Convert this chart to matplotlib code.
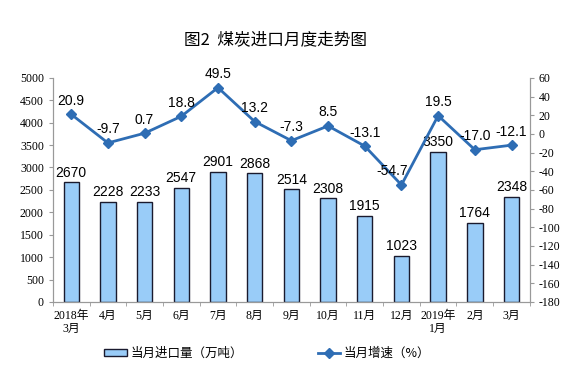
import numpy as np
import matplotlib.pyplot as plt
from matplotlib.ticker import MultipleLocator

plt.rcParams['font.family'] = ['Noto Sans CJK SC', 'DejaVu Sans']
plt.rcParams['axes.unicode_minus'] = False

# 月份、进口量（万吨）、增速（%）
months = ['2018年\n3月', '4月', '5月', '6月', '7月', '8月', '9月', '10月',
          '11月', '12月', '2019年\n1月', '2月', '3月']
imports = [2670, 2228, 2233, 2547, 2901, 2868, 2514, 2308, 1915, 1023, 3350, 1764, 2348]
growth = [20.9, -9.7, 0.7, 18.8, 49.5, 13.2, -7.3, 8.5, -13.1, -54.7, 19.5, -17.0, -12.1]
growth_labels = ['20.9', '-9.7', '0.7', '18.8', '49.5', '13.2', '-7.3', '8.5',
                 '-13.1', '-54.7', '19.5', '-17.0', '-12.1']

serif = ['Liberation Serif', 'Noto Sans CJK SC']
num_font = 'Liberation Sans'

fig = plt.figure(figsize=(5.81, 3.76), dpi=100)
ax = fig.add_axes([0.091, 0.197, 0.821, 0.596])
ax2 = ax.twinx()

x = np.arange(len(months))
bars = ax.bar(x, imports, width=0.42, color='#99ccf8', edgecolor='#1a1a2e',
              linewidth=1.0, label='当月进口量（万吨）', zorder=2)
for xi, v in zip(x, imports):
    ax.text(xi, v + 60, str(v), ha='center', va='bottom', fontsize=10,
            family=num_font)

line, = ax2.plot(x, growth, color='#2e6db4', linewidth=2, marker='D',
                 markersize=5, label='当月增速（%）', zorder=3)
for xi, v, s in zip(x, growth, growth_labels):
    dx = -0.25 if s == '-54.7' else 0
    ax2.text(xi + dx, v + 7, s, ha='center', va='bottom', fontsize=10,
             family=num_font)

ax.set_xlim(-0.5, len(months) - 0.5)
ax.set_ylim(0, 5000)
ax.yaxis.set_major_locator(MultipleLocator(500))
ax2.set_ylim(-180, 60)
ax2.yaxis.set_major_locator(MultipleLocator(20))

ax.set_xticks(x)
ax.set_xticklabels(months, fontsize=8.5, family=serif, linespacing=1.1)
ax.set_xticks(np.arange(-0.5, len(months), 1), minor=True)
ax.tick_params(axis='x', which='major', length=0, pad=6)
ax.tick_params(axis='x', which='minor', length=3, color='#999999')
for t in ax.get_yticklabels():
    t.set_family(serif)
ax.tick_params(axis='y', labelsize=8.5, length=3, color='#999999')
for t in ax2.get_yticklabels():
    t.set_family(serif)
ax2.tick_params(axis='y', labelsize=8.5, length=3, color='#999999')

for a in (ax, ax2):
    a.spines['top'].set_visible(False)
    for s in ('left', 'right', 'bottom'):
        a.spines[s].set_color('#999999')

fig.text(0.474, 0.895, '图2  煤炭进口月度走势图', ha='center', va='center',
         fontsize=12)

fig.legend([bars, line], ['当月进口量（万吨）', '当月增速（%）'],
           loc='center', bbox_to_anchor=(0.46, 0.06), ncol=2, frameon=False,
           fontsize=9, columnspacing=6, handlelength=1.8, handleheight=0.5,
           handletextpad=0.3)

fig.savefig('out.png', dpi=100)
